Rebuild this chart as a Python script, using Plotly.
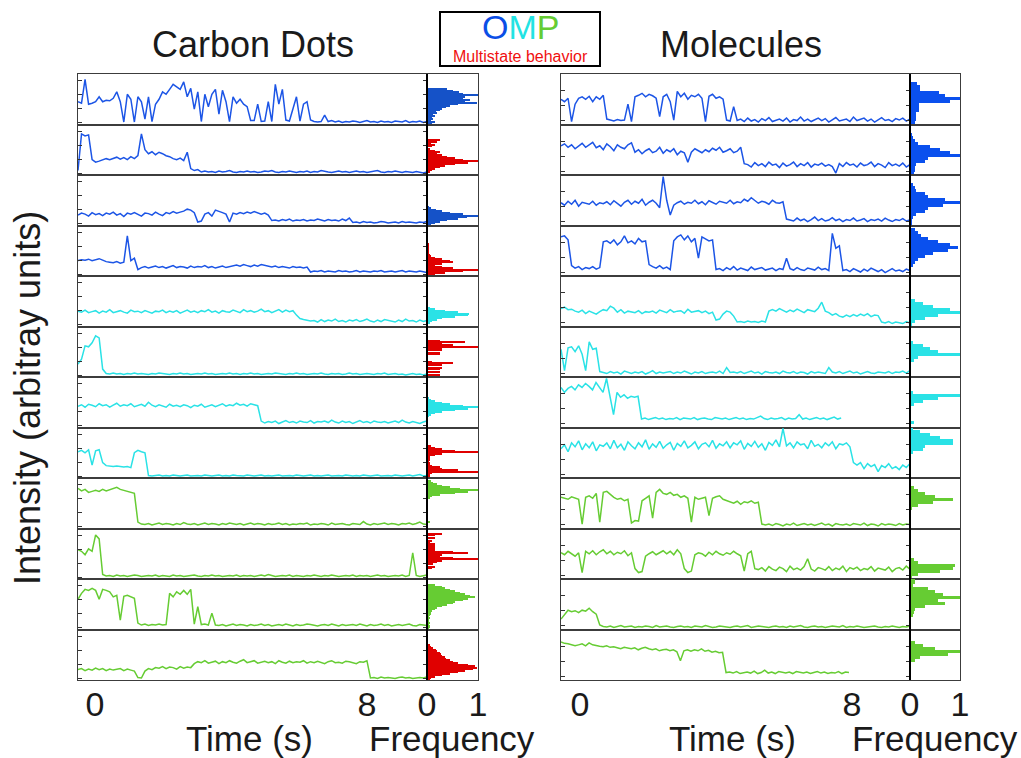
import numpy as np
import plotly.graph_objects as go

# ---------------------------------------------------------------- data
# Intensity traces, in percent of each panel's height, sampled evenly in time.
cd_trace_01 = [45,42,90,40,42,45,55,45,48,47, 52,65,45,4,60,50,4,55,45,10, 55,5,40,50,65,60,70,80,75,70,
               85,55,72,30,65,5,60,35,60,70, 20,68,45,5,55,42,50,40,35,7, 7,40,5,6,45,5,80,40,70,8,
               6,30,55,6,40,45,8,5,4,5, 18,5,7,4,6,3,5,4,6,5, 3,5,7,4,5,3,6,4,5,3, 6,5,4,7,3,5,4,6,3,5]
cd_trace_02 = [8,82,78,80,30,25,27,30,32,30, 33,35,31,34,30,36,32,38,82,50, 42,46,40,45,42,38,36,32,30,33,
               28,45,12,8,10,5,7,5,6,4, 7,5,6,8,5,4,6,5,7,5, 6,4,5,7,6,8,5,4,6,5, 7,5,4,6,5,7,4,6,5,8,
               6,5,4,6,7,5,6,4,5,7, 5,6,4,5,6,8,5,4,6,5, 7,5,4,6,5,4,6,5,3,5]
cd_trace_03 = [20,24,22,18,25,21,23,19,24,22, 26,20,23,17,24,22,25,21,18,24, 23,20,26,22,19,25,23,27,24,26,
               28,32,30,25,6,8,22,25,18,30, 28,25,22,6,24,22,25,23,26,24, 27,25,22,24,20,9,10,8,11,9,
               12,8,10,9,11,8,10,9,12,10, 8,11,9,10,8,12,9,14,5,6, 4,7,5,6,4,5,7,6,4,5, 6,4,7,5,6,5,4,6,5,7]
cd_trace_04 = [30,32,31,33,30,32,34,31,28,27, 26,28,25,27,80,30,35,12,16,18, 15,17,19,16,18,15,17,20,16,18,
               17,15,19,16,18,17,20,16,18,15, 17,19,16,18,20,21,19,22,20,18, 21,19,22,20,18,17,19,16,18,17,
               15,18,16,17,15,17,7,9,8,10, 7,9,8,7,10,8,9,7,8,10, 7,9,8,7,9,8,10,7,8,9, 7,8,10,7,9,8,7,9,8,6]
cd_trace_05 = [30,28,32,27,29,31,26,30,28,33, 27,29,31,28,26,32,29,30,27,31, 28,26,30,29,32,27,30,28,31,26,
               29,32,28,30,27,31,29,33,28,30, 26,31,29,28,32,30,27,33,29,31, 28,30,34,29,31,27,30,33,28,32,
               29,31,22,15,13,12,10,11,8,13, 9,12,10,14,9,11,8,12,10,13, 9,11,14,10,8,12,9,13,11,10,
               8,12,9,14,10,11,8,12,9,11]
cd_trace_06 = [25,35,62,60,68,82,78,15,6,5, 7,5,6,4,6,5,7,5,6,5, 4,6,5,7,6,5,4,6,5,7, 5,6,4,5,6,5,7,5,6,4,
               5,6,5,7,5,6,4,6,5,7, 5,6,4,5,6,5,7,6,5,4, 6,5,7,5,6,4,5,6,5,7, 5,4,6,5,6,4,5,7,5,6,
               4,5,6,5,4,6,5,7,4,5, 6,4,5,3,5,6,4,5,3,5]
cd_trace_07 = [42,45,40,46,44,41,47,43,45,40, 44,48,42,45,43,47,41,44,46,42, 50,44,41,45,43,40,46,42,44,41,
               45,43,39,44,42,46,40,43,45,41, 44,47,42,45,43,48,44,46,42,47, 45,43,12,8,11,9,12,7,10,13,
               9,11,8,12,10,9,13,8,11,10, 12,9,14,10,8,12,9,11,7,10, 13,9,11,8,12,10,9,11,8,10,
               12,9,14,10,8,11,9,7,10,12]
cd_trace_08 = [52,55,50,56,25,54,56,30,24,23, 22,23,22,21,22,20,50,55,52,50, 4,3,4,5,3,4,3,5,4,3,
               4,5,3,4,4,3,5,4,3,4, 5,3,4,3,5,4,4,3,5,4, 3,4,5,3,4,3,4,5,3,4, 4,3,5,4,3,4,5,3,4,3,
               4,5,3,4,4,3,5,4,3,4, 3,5,4,3,4,5,3,4,4,3, 5,4,3,4,5,3,4,6,3,4]
cd_trace_09 = [80,75,78,72,74,76,74,78,75,77, 80,82,78,76,74,72,70,12,8,7, 9,6,8,10,7,9,8,6,9,7,
               11,8,7,9,6,8,10,7,9,8, 6,9,7,10,8,7,9,6,8,10, 7,9,8,6,9,7,8,10,7,9, 6,8,7,9,8,10,6,8,7,9,
               8,6,10,7,8,9,7,6,9,8, 7,13,8,6,9,7,8,10,7,9, 8,6,9,8,10,7,9,12,8,7]
cd_trace_10 = [58,55,48,60,55,88,80,8,5,6, 4,7,5,6,4,5,7,6,4,5, 6,5,7,4,6,5,4,7,5,6, 4,5,6,7,5,4,6,5,7,5,
               6,4,5,6,5,7,4,6,5,6, 4,5,7,5,8,6,4,5,6,5, 7,4,6,5,4,6,5,7,5,4, 6,5,7,6,4,5,6,5,7,4,
               6,5,6,4,5,7,5,6,4,5, 6,5,7,4,6,52,6,4,5,7]
cd_trace_11 = [60,72,80,78,82,78,60,80,78,75, 65,68,18,66,68,65,62,12,8,10, 7,9,8,10,8,9,72,65,75,70,
               78,70,80,10,45,9,10,8,32,8, 7,9,6,8,10,7,9,8,6,9, 7,8,10,7,9,6,8,9,7,10, 8,6,9,7,8,10,9,7,6,8,
               9,7,10,8,6,9,7,8,9,7, 10,8,6,9,7,8,10,7,9,6, 8,9,7,8,10,7,6,9,8,7]
cd_trace_12 = [20,22,18,21,19,23,20,22,18,21, 19,20,22,18,21,19,17,4,3,17, 22,20,24,23,26,22,25,24,21,26,
               23,25,24,32,36,34,38,33,35,37, 32,36,34,38,35,33,37,40,34,36, 38,33,35,37,34,36,32,38,35,33,
               37,34,36,35,38,33,36,34,37,35, 32,36,38,34,35,33,37,36,34,32, 36,35,38,3,4,2,5,3,4,3,
               2,4,5,3,4,2,3,4,3,5]

mol_trace_01 = [50,45,52,5,40,52,55,50,56,45, 55,50,58,10,8,6,9,7,8,40, 5,55,58,62,55,60,57,52,15,55,
                60,45,8,66,55,62,50,58,55,60, 52,5,56,60,52,55,50,8,6,35, 7,10,5,12,6,9,4,11,7,13,
                5,8,10,6,12,4,9,7,14,6, 10,5,8,12,7,11,4,9,13,6, 8,10,5,14,7,9,12,6,10,4, 8,13,7,9,5,11,8,12,6,10]
mol_trace_02 = [58,62,55,60,52,57,63,55,60,65, 54,58,50,62,56,48,60,55,52,60, 64,45,50,42,48,52,44,47,55,43,
                50,46,52,40,47,44,25,45,52,48, 44,50,46,53,49,55,45,48,52,44, 47,55,22,20,15,24,18,22,16,25,
                19,21,14,23,17,20,25,16,22,18, 24,15,21,19,23,17,20,16,3,22, 16,24,19,21,15,23,18,20,25,16,
                22,19,14,24,18,21,17,23,15,20]
mol_trace_03 = [45,40,48,42,50,38,46,44,42,48, 40,45,43,47,41,49,44,38,46,50, 42,48,44,52,40,46,50,44,35,98,
                50,20,40,45,48,42,46,44,50,43, 47,41,49,45,42,48,46,44,50,43, 47,45,52,48,55,50,44,48,46,42,
                50,45,44,47,12,10,8,14,9,12, 7,11,16,9,13,8,10,15,9,12, 7,11,9,14,8,10,13,7,11,9,
                12,8,14,10,7,11,9,13,8,10]
mol_trace_04 = [78,80,72,20,15,18,12,16,14,18, 13,16,68,70,65,72,62,68,80,66, 70,64,75,68,70,22,18,15,20,14,
                17,12,70,78,82,72,80,68,75,35, 78,74,70,72,12,14,10,16,12,18, 11,15,13,10,17,12,14,16,11,13,
                15,10,14,12,35,14,11,16,12,10, 15,13,11,17,12,14,10,85,55,60, 10,12,8,14,10,7,13,9,15,11,
                8,12,6,10,14,9,11,8,13,10]
mol_trace_05 = [35,38,33,34,30,28,32,25,30,27, 24,29,33,31,40,36,28,33,26,30, 28,27,31,25,29,28,30,26,32,29,
                27,33,28,30,31,26,34,28,29,31, 27,30,25,28,12,14,24,30,28,20, 8,9,7,10,8,9,7,10,8,30,
                33,30,35,31,28,32,29,34,30,27, 33,31,29,36,48,30,27,22,25,20, 18,22,19,23,20,24,21,25,19,22,
                21,8,6,9,5,8,7,5,9,6]
mol_trace_06 = [55,12,58,60,50,62,45,12,70,55, 57,10,8,6,10,7,9,5,11,8, 6,9,7,10,5,8,12,6,9,7,
                8,10,6,9,7,11,8,5,9,7, 10,6,8,9,7,11,6,18,8,9, 7,10,6,8,11,7,9,5,10,8, 7,9,6,11,8,7,10,6,9,8,
                5,10,7,9,8,6,18,9,7,10, 6,8,11,7,9,5,8,10,7,6, 9,8,7,10,6,9,8,11,7,12]
mol_trace_07 = [80,70,78,82,75,85,80,88,82,75, 90,80,70,98,65,25,70,60,65,58, 62,60,62,16,18,15,17,19,16,18,
                15,17,16,19,15,18,17,16,19,15, 17,18,16,15,19,17,16,18,15,17, 19,16,18,15,17,16,19,22,17,15,
                18,16,17,19,15,18,16,17,25,16, 18,15,17,19,16,18,15,17,20,16, 18]
mol_trace_08 = [58,66,52,70,62,74,56,68,60,72, 54,66,63,70,58,75,60,67,55,72, 64,58,70,62,76,57,68,61,73,59,
                66,71,55,69,63,74,60,65,72,58, 67,70,62,75,59,68,64,72,60,70, 66,74,57,69,63,73,61,68,55,71,
                65,76,62,99,64,70,60,72,66,68, 58,75,63,67,60,70,64,72,58,68, 66,70,62,30,25,30,18,28,22,26,
                12,24,20,28,18,22,16,25,20,28]
mol_trace_09 = [62,60,58,63,60,58,8,62,65,60, 70,12,72,74,68,62,58,60,55,58, 10,15,14,55,60,65,20,72,78,70,
                68,72,66,68,62,65,60,12,62,58, 60,62,25,60,63,65,58,55,52,50, 54,48,53,51,55,50,52,8,6,8,
                5,9,7,4,8,6,10,5,7,9, 6,8,5,7,10,6,8,4,9,7, 6,8,5,9,7,6,10,5,8,7, 4,9,6,8,7,5,9,6,8,7]
mol_trace_10 = [52,48,55,50,45,52,12,55,50,56, 48,54,58,50,55,48,53,50,56,46, 52,20,12,14,45,50,54,48,52,56,
                50,55,48,58,50,20,12,15,48,52, 50,45,53,48,55,50,47,52,49,55, 50,46,15,50,55,20,18,22,15,24,
                19,16,23,20,14,25,18,21,17,24, 40,19,15,22,20,17,24,16,21,18, 25,14,22,19,23,16,20,18,24,15,
                21,19,17,23,14,20,22,17,25,19]
mol_trace_11 = [20,30,38,35,37,33,38,36,42,35, 30,8,5,4,6,3,5,7,4,5, 6,3,5,4,6,5,3,7,4,5, 6,4,3,5,6,4,5,3,6,5,
                4,7,5,3,4,6,5,4,3,5, 6,4,5,7,3,4,6,5,4,3, 5,6,4,5,3,6,4,5,7,4, 3,5,6,4,5,3,4,6,5,4,
                7,3,5,4,6,5,3,4,5,6, 4,3,5,4,6,5,3,5,4,6]
mol_trace_12 = [76,73,72,70,68,70,72,68,74,70, 68,67,66,68,65,66,64,62,65,63, 62,64,60,63,65,62,60,62,58,60,
                61,58,60,56,38,58,60,57,60,58, 62,57,59,55,57,54,55,14,15,13, 16,12,14,15,13,17,12,14,19,13,
                15,12,16,14,13,15,12,16,14,13, 15,12,14,16,13,15,12,14,13,16, 12,15,14]

# Time (s) at which each trace stops
cd_trace_end = [9.76] * 12
mol_trace_end = [9.70, 9.70, 9.70, 9.70, 9.70, 9.70, 7.68, 9.70, 9.70, 9.70, 9.70, 7.91]

# Intensity histograms: normalised frequency per bin, bins counted up from zero
cd_hist_bin = 3.0
mol_hist_bin = 6.0
cd_hist_01 = [0.1,0.15,0.08,0.12,0.1,0.15,0.12,0.2,0.18,0.25, 0.3,0.38,0.45,0.6,0.98,0.75,0.85,0.7,0.75,1.0, 0.7,0.62,0.5,0.4]
cd_hist_02 = [0,0,0.05,0.1,0.15,0.25,0.35,0.55,0.8,1.0, 0.7,0.55,0.4,0.3,0.2,0.25,0.15,0.05,0,0.1, 0.15,0.08,0.2,0.25]
cd_hist_03 = [0.08,0.15,0.25,0.4,0.6,0.78,1.0,0.7,0.45,0.3, 0.18,0.08,0.03]
cd_hist_04 = [0.05,0.15,0.35,0.7,1.0,0.5,0.3,0.15,0.3,0.5, 0.45,0.3,0.15,0.08,0.05,0.03,0.03,0.02,0.02,0.02, 0.02,0.02]
cd_hist_05 = [0,0,0.05,0.1,0.2,0.3,0.55,0.8,0.82,0.6, 0.35,0.15,0.05]
cd_hist_06 = [0,0.25,0,0.25,0,0.25,0.3,0,0.3,0.5, 0.1,0,0,0,0,0.25,0.25,0,0.3,0.3, 1.0,0.5,0.3,0.75,0.25]
cd_hist_07 = [0,0,0,0,0,0,0,0.03,0.08,0.15, 0.3,0.55,0.8,1.0,0.7,0.45,0.3,0.15,0.08,0.04]
cd_hist_08 = [0,0.05,0.05,0.1,1.0,0.6,0.3,0.25,0.1,0.05, 0.05,0.03,0.05,0.05,0.05,0.15,0.3,1.0,0.55,0.3, 0.15,0.08]
cd_hist_09 = [0,0,0,0,0.05,0,0,0,0,0, 0,0,0,0,0,0,0,0,0,0, 0.05,0.1,0.25,0.55,0.8,1.0,0.65,0.45,0.3,0.2, 0.12,0.08]
cd_hist_10 = [0,0,0,0,0,0,0,0.1,0.15,0, 0.12,0.2,0.3,1.0,0.5,0.25,0.3,0.8,0.5,0.15, 0.15,0.15,0.15,0.15,0.05,0.1,0,0.15,0,0.15, 0.3]
cd_hist_11 = [0.03,0.05,0.05,0.03,0.05,0.03,0.03,0.05,0.03,0.05, 0.08,0.08,0.1,0.15,0.2,0.3,0.4,0.5,0.55,0.7, 0.8,0.95,0.85,0.75,0.65,0.55,0.45,0.35,0.3,0.15]
cd_hist_12 = [0.05,0.08,0.15,0.3,0.45,0.6,0.75,0.9,0.98,0.95, 0.8,0.6,0.5,0.45,0.38,0.35,0.3,0.28,0.25,0.2, 0.18,0.12,0.08,0.05]

mol_hist_01 = [0.1,0.12,0.12,0.12,0.17,0.17,0.18,0.8,1.0,0.7, 0.57,0.2,0.2,0.13]
mol_hist_02 = [0.08,0.1,0.1,0.12,0.3,0.35,1.0,0.8,0.6,0.4, 0.15,0.1,0.05,0.03,0.02]
mol_hist_03 = [0.03,0.03,0.05,0.12,0.3,0.35,0.65,1.0,0.7,0.35, 0.3,0.12,0.1,0.05]
mol_hist_04 = [0.02,0.02,0.02,0.05,0.1,0.15,0.3,0.45,0.75,0.95, 0.8,0.55,0.35,0.22,0.15,0.1]
mol_hist_05 = [0.03,0.1,0.3,0.55,1.0,0.8,0.45,0.25,0.1]
mol_hist_06 = [0,0,0,0,0,0.08,0.15,1.0,0.55,0.4, 0.25,0.05]
mol_hist_07 = [0,0.07,0,0,0,0,0,0.08,0.25,0.55, 1.0,0.05]
mol_hist_08 = [0,0,0,0,0,0,0,0,0.05,0.25, 0.3,0.85,0.85,0.6,0.4,0.2,0.05]
mol_hist_09 = [0,0,0,0,0,0,0.03,0.15,0.45,0.85, 0.5,0.3,0.15,0.08]
mol_hist_10 = [0.03,0.15,0.6,0.85,0.9,0.15,0.08]
mol_hist_11 = [0,0,0,0,0.05,0.08,0.1,0.3,0.7,0.55, 1.0,0.65,0.5,0.35,0.05,0.1,0.1]
mol_hist_12 = [0,0,0,0,0,0,0.1,0.2,0.75,1.0, 0.5,0.25,0.1]

time_ticks = [0, 8]
freq_ticks = [0, 1]

# ---------------------------------------------------------------- styling
W, H = 1021, 758
FONT = "Liberation Sans, Arial, Helvetica, sans-serif"
BLUE, CYAN, GREEN, RED = "#1c55e6", "#2ae2e6", "#66cc33", "#e00000"
HBLUE_CD, HBLUE_MOL = "#1552c8", "#0a50ee"
FRAME = "#3c3c3c"

ROW_TOP, ROW_BOTTOM, N_ROWS = 74, 680, 12
ROW_H = (ROW_BOTTOM - ROW_TOP) / N_ROWS
row_colors = [BLUE] * 4 + [CYAN] * 4 + [GREEN] * 4

groups = [
    dict(trace_px=(78, 427), hist_px=(427, 478), t_range=(-0.5, 9.765),
         traces=[cd_trace_01, cd_trace_02, cd_trace_03, cd_trace_04, cd_trace_05, cd_trace_06,
                 cd_trace_07, cd_trace_08, cd_trace_09, cd_trace_10, cd_trace_11, cd_trace_12],
         ends=cd_trace_end,
         hists=[cd_hist_01, cd_hist_02, cd_hist_03, cd_hist_04, cd_hist_05, cd_hist_06,
                cd_hist_07, cd_hist_08, cd_hist_09, cd_hist_10, cd_hist_11, cd_hist_12],
         hist_colors=[HBLUE_CD, RED, HBLUE_CD, RED, CYAN, RED, CYAN, RED, GREEN, RED, GREEN, RED],
         bin=cd_hist_bin, yticks=[3, 31, 59, 87]),
    dict(trace_px=(561, 910), hist_px=(910, 960), t_range=(-0.56, 9.705),
         traces=[mol_trace_01, mol_trace_02, mol_trace_03, mol_trace_04, mol_trace_05, mol_trace_06,
                 mol_trace_07, mol_trace_08, mol_trace_09, mol_trace_10, mol_trace_11, mol_trace_12],
         ends=mol_trace_end,
         hists=[mol_hist_01, mol_hist_02, mol_hist_03, mol_hist_04, mol_hist_05, mol_hist_06,
                mol_hist_07, mol_hist_08, mol_hist_09, mol_hist_10, mol_hist_11, mol_hist_12],
         hist_colors=[HBLUE_MOL] * 4 + [CYAN] * 4 + [GREEN] * 4,
         bin=mol_hist_bin, yticks=[7, 37, 67]),
]


def xdom(a, b):
    return [a / W, b / W]


def ydom(top, bottom):
    return [1 - bottom / H, 1 - top / H]


def axis_names(k):
    return ("xaxis" if k == 1 else f"xaxis{k}", "yaxis" if k == 1 else f"yaxis{k}",
            "x" if k == 1 else f"x{k}", "y" if k == 1 else f"y{k}")


fig = go.Figure()
layout = {}
k = 0
tick_font = dict(family=FONT, size=34, color="#1a1a1a")
common = dict(showline=True, linecolor=FRAME, linewidth=1, showgrid=False,
              zeroline=False, automargin=False)

for g in groups:
    t0 = g["t_range"][0]
    for r in range(N_ROWS):
        top = ROW_TOP + r * ROW_H
        bottom = top + ROW_H
        last = r == N_ROWS - 1

        # time trace panel
        k += 1
        xa, ya, xr, yr = axis_names(k)
        vals = g["traces"][r]
        t = np.linspace(t0, g["ends"][r], len(vals))
        fig.add_trace(go.Scatter(x=t, y=vals, mode="lines", xaxis=xr, yaxis=yr,
                                 line=dict(color=row_colors[r], width=1.5), hoverinfo="skip",
                                 showlegend=False))
        layout[xa] = dict(domain=xdom(*g["trace_px"]), anchor=yr, range=list(g["t_range"]),
                          mirror=True, ticks="", tickvals=time_ticks, showticklabels=last,
                          tickfont=tick_font, ticklabelstandoff=-6, **common)
        layout[ya] = dict(domain=ydom(top, bottom), anchor=xr, range=[-1, 101],
                          mirror="ticks", ticks="inside", ticklen=4, tickwidth=1,
                          tickcolor="#333333", tickvals=g["yticks"], showticklabels=False,
                          **common)

        # histogram panel
        k += 1
        xa, ya, xr, yr = axis_names(k)
        freq = g["hists"][r]
        centers = [(i + 0.5) * g["bin"] for i in range(len(freq))]
        fig.add_trace(go.Bar(x=freq, y=centers, orientation="h", width=g["bin"],
                             xaxis=xr, yaxis=yr, hoverinfo="skip", showlegend=False,
                             marker=dict(color=g["hist_colors"][r], line=dict(width=0))))
        layout[xa] = dict(domain=xdom(*g["hist_px"]), anchor=yr, range=[0, 1],
                          mirror=True, ticks="", tickvals=freq_ticks, showticklabels=last,
                          tickfont=tick_font, ticklabelstandoff=-6, **common)
        layout[ya] = dict(domain=ydom(top, bottom), anchor=xr, range=[-1, 101],
                          mirror=True, ticks="", showticklabels=False, **common)

shapes = []
for g in groups:
    xdiv = g["hist_px"][0] / W
    shapes.append(dict(type="line", xref="paper", yref="paper", x0=xdiv, x1=xdiv,
                       y0=1 - ROW_BOTTOM / H, y1=1 - ROW_TOP / H,
                       line=dict(color="black", width=2)))
# legend-style box
shapes.append(dict(type="rect", xref="paper", yref="paper", x0=440 / W, x1=600 / W,
                   y0=1 - 66 / H, y1=1 - 12 / H, line=dict(color="black", width=2),
                   fillcolor="white"))


def label(text, x, y, size, color="#1a1a1a", angle=0):
    return dict(text=text, x=x / W, y=1 - y / H, xref="paper", yref="paper",
                showarrow=False, textangle=angle, xanchor="center", yanchor="middle",
                font=dict(family=FONT, size=size, color=color))


annotations = [
    label("Carbon Dots", 253, 44, 36),
    label("Molecules", 741, 44, 36),
    label("Time (s)", 249, 738, 35),
    label("Frequency", 452, 738, 35),
    label("Time (s)", 732, 738, 35),
    label("Frequency", 935, 738, 35),
    label("Intensity (arbitray units)", 27, 398, 36, angle=-90),
    label("<span style='color:#0b4ee6'>O</span><span style='color:#22e3e3'>M</span>"
          "<span style='color:#66cc33'>P</span>", 520, 27, 34),
    label("Multistate behavior", 520, 56, 16, color="#f01010"),
]

fig.update_layout(
    template="none",
    width=W, height=H, margin=dict(l=0, r=0, t=0, b=0, pad=0), autosize=False,
    paper_bgcolor="white", plot_bgcolor="white",
    font=dict(family=FONT), showlegend=False,
    shapes=shapes, annotations=annotations, bargap=0,
    **layout,
)

fig.write_html("out.html")
